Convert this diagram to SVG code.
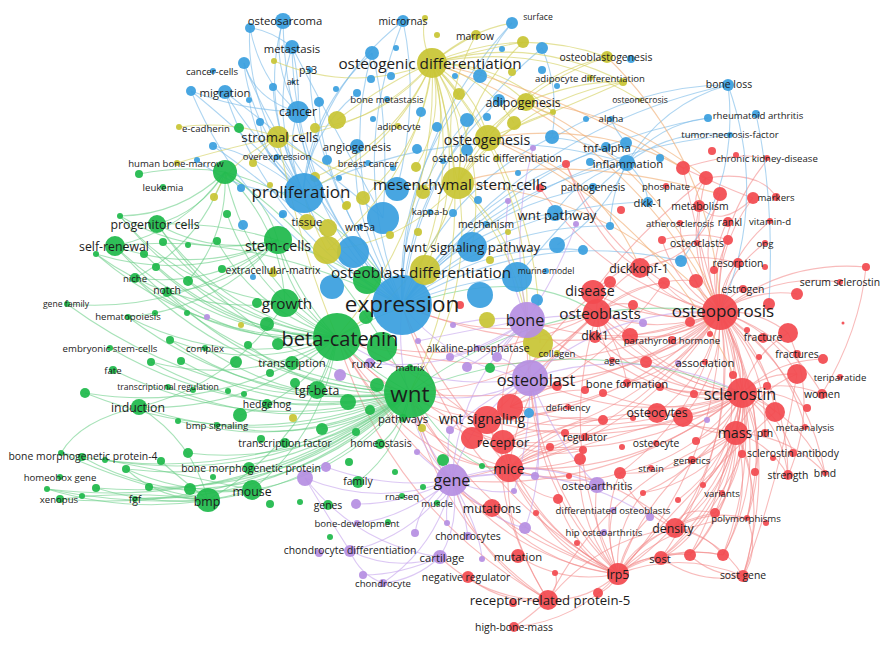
<svg xmlns="http://www.w3.org/2000/svg" width="892" height="646" viewBox="0 0 892 646">
<style>
.r{fill:#f24a50}.g{fill:#1fb94b}.b{fill:#3a9fdf}.y{fill:#c8c535}.p{fill:#b68fe2}
circle{fill-opacity:.93}
text{font-family:"Open Sans","Noto Sans","DejaVu Sans",sans-serif;fill:#1c1c1c;text-anchor:middle;dominant-baseline:central}
.f8{font-size:8.6px}.f9{font-size:9.6px}.f10{font-size:10.4px}.f11{font-size:11.3px}.f12{font-size:12.3px}.f13{font-size:13.2px}.f14{font-size:14.2px}.f15{font-size:15.3px}.f16{font-size:16.2px}.f17{font-size:17px}.f20{font-size:20px}.f22{font-size:22.5px}
#edges path{fill:none;stroke-width:1.1}
.er{stroke:#f38a8a;stroke-opacity:.58}
.eg{stroke:#68cd85;stroke-opacity:.58}
.eb{stroke:#7cbbe9;stroke-opacity:.62}
.ey{stroke:#d3d15e;stroke-opacity:.62}
.ep{stroke:#c6a6ee;stroke-opacity:.62}
.eo{stroke:#f0ad72;stroke-opacity:.62}
</style>
<rect width="892" height="646" fill="#ffffff"/>
<g id="edges">
<g class="er">
<path d="M720 312Q747 348 742 393"/><path d="M720 312Q752 369 736 433"/><path d="M720 312Q741 429 675 528"/><path d="M720 312Q721 463 618 574"/><path d="M720 312Q758 309 788 333"/><path d="M720 312Q771 328 797 374"/><path d="M720 312Q784 260 866 267"/><path d="M720 312Q774 273 840 282"/><path d="M720 312Q727 296 744 289"/><path d="M720 312Q719 284 737 263"/><path d="M720 312Q710 274 728 240"/><path d="M720 312Q706 264 728 220"/><path d="M720 312Q688 263 699 205"/><path d="M720 312Q714 248 753 198"/><path d="M720 312Q713 226 768 159"/><path d="M720 312Q671 306 640 268"/><path d="M720 312Q652 327 593 292"/><path d="M720 312Q659 337 597 313"/><path d="M720 312Q625 355 527 320"/><path d="M720 312Q638 383 530 378"/><path d="M720 312Q625 413 487 420"/><path d="M720 312Q646 432 509 468"/><path d="M720 312Q581 414 410 392"/><path d="M720 312Q560 372 402 305"/><path d="M720 312Q533 401 337 337"/><path d="M720 312Q787 333 822 394"/><path d="M720 312Q787 380 788 476"/><path d="M720 312Q805 371 825 473"/><path d="M720 312Q784 439 743 576"/><path d="M720 312Q637 420 503 442"/><path d="M720 312Q620 450 452 480"/>
<path d="M720 312Q686 248 706 178"/><path d="M720 312Q696 253 720 194"/><path d="M720 312Q659 319 610 282"/><path d="M720 312Q686 309 664 283"/><path d="M720 312Q702 301 696 281"/><path d="M720 312Q755 288 797 294"/><path d="M720 312Q675 326 633 305"/><path d="M720 312Q680 342 630 336"/><path d="M720 312Q693 352 646 362"/><path d="M720 312Q739 341 733 375"/><path d="M720 312Q767 351 775 412"/><path d="M720 312Q722 372 683 417"/><path d="M720 312Q709 375 657 413"/><path d="M720 312Q688 366 627 383"/><path d="M720 312Q740 447 661 558"/><path d="M720 312Q754 440 690 555"/><path d="M720 312Q770 433 723 555"/><path d="M720 312Q758 414 715 513"/><path d="M720 312Q775 410 747 518"/><path d="M720 312Q702 412 620 473"/><path d="M720 312Q759 379 742 454"/><path d="M720 312Q767 364 765 433"/><path d="M720 312Q786 353 805 427"/><path d="M720 312Q676 358 612 360"/><path d="M720 312Q663 350 595 337"/><path d="M720 312Q677 288 662 240"/><path d="M720 312Q729 269 765 243"/><path d="M720 312Q727 257 770 221"/><path d="M720 312Q682 276 680 223"/><path d="M720 312Q613 269 566 164"/><path d="M720 312Q605 286 540 188"/>
<path d="M742 393Q747 414 736 433"/><path d="M742 393Q736 474 675 528"/><path d="M742 393Q735 492 661 558"/><path d="M742 393Q716 508 618 574"/><path d="M742 393Q704 420 657 413"/><path d="M742 393Q700 406 660 387"/><path d="M742 393Q657 394 595 337"/><path d="M742 393Q766 372 797 374"/><path d="M742 393Q782 378 822 394"/><path d="M742 393Q780 413 793 453"/><path d="M742 393Q641 477 509 468"/><path d="M742 393Q632 465 503 442"/><path d="M742 393Q620 458 487 420"/><path d="M742 393Q614 495 452 480"/><path d="M742 393Q633 428 530 378"/><path d="M742 393Q620 400 527 320"/><path d="M742 393Q576 459 410 392"/><path d="M742 393Q647 372 593 292"/><path d="M742 393Q654 382 597 313"/><path d="M742 393Q778 388 807 408"/>
<path d="M742 393Q762 396 775 412"/><path d="M742 393Q717 417 683 417"/><path d="M742 393Q673 421 603 393"/><path d="M742 393Q688 397 646 362"/><path d="M742 393Q675 387 630 336"/><path d="M742 393Q697 457 620 473"/><path d="M742 393Q748 484 690 555"/><path d="M742 393Q765 478 723 555"/><path d="M742 393Q753 458 715 513"/><path d="M742 393Q770 455 747 518"/><path d="M742 393Q764 430 755 472"/><path d="M742 393Q741 447 703 485"/><path d="M742 393Q713 463 643 493"/><path d="M742 393Q731 459 678 500"/><path d="M742 393Q670 403 612 360"/><path d="M742 393Q753 354 788 333"/><path d="M742 393Q776 360 823 359"/><path d="M742 393Q800 416 825 473"/><path d="M742 393Q782 425 788 476"/><path d="M742 393Q729 426 696 441"/>
<path d="M736 433Q725 493 675 528"/><path d="M736 433Q724 511 661 558"/><path d="M736 433Q737 503 690 555"/><path d="M736 433Q754 497 723 555"/><path d="M736 433Q759 473 747 518"/><path d="M736 433Q771 444 788 476"/><path d="M736 433Q789 435 825 473"/><path d="M736 433Q686 476 620 473"/><path d="M736 433Q702 482 643 493"/><path d="M736 433Q755 391 797 374"/><path d="M736 433Q706 436 683 417"/><path d="M736 433Q768 503 743 576"/><path d="M736 433Q720 470 703 485"/>
<path d="M675 528Q704 532 723 555"/><path d="M675 528Q719 538 743 576"/><path d="M675 528Q709 509 747 518"/><path d="M675 528Q637 512 620 473"/><path d="M675 528Q680 505 715 513"/><path d="M661 558Q692 548 723 555"/><path d="M661 558Q700 585 743 576"/><path d="M690 555Q710 575 743 576"/><path d="M747 518Q760 550 743 576"/>
<path d="M618 574Q588 601 548 600"/><path d="M618 574Q577 621 514 627"/><path d="M618 574Q564 585 518 556"/><path d="M618 574Q542 566 492 508"/><path d="M618 574Q637 540 675 528"/><path d="M618 574Q636 557 661 558"/><path d="M618 574Q681 550 743 576"/><path d="M618 574Q649 480 736 433"/><path d="M618 574Q542 543 509 468"/><path d="M618 574Q534 531 503 442"/><path d="M618 574Q522 523 487 420"/><path d="M618 574Q516 560 452 480"/><path d="M618 574Q478 525 410 392"/><path d="M618 574Q522 465 527 320"/><path d="M618 574Q535 494 530 378"/><path d="M618 574Q671 520 747 518"/><path d="M618 574Q654 524 715 513"/><path d="M618 574Q430 512 337 337"/><path d="M618 574Q456 483 402 305"/><path d="M618 574Q555 448 597 313"/><path d="M618 574Q590 534 597 485"/><path d="M618 574Q650 550 690 555"/><path d="M618 574Q667 544 723 555"/>
<path d="M618 574Q573 549 558 499"/><path d="M618 574Q576 524 580 459"/><path d="M618 574Q599 523 620 473"/><path d="M618 574Q614 529 643 493"/><path d="M618 574Q605 540 613 510"/><path d="M618 574Q625 540 650 517"/><path d="M618 574Q565 560 536 513"/><path d="M618 574Q600 570 577 543"/><path d="M618 574Q610 590 598 593"/>
<path d="M548 600Q502 526 509 468"/><path d="M548 600Q494 512 503 442"/><path d="M548 600Q437 524 410 392"/><path d="M548 600Q476 559 452 480"/><path d="M548 600Q503 605 468 577"/><path d="M548 600Q485 600 440 557"/><path d="M548 600Q390 511 337 337"/><path d="M548 600Q528 618 514 627"/><path d="M548 600Q597 539 675 528"/><path d="M548 600Q609 479 736 433"/><path d="M548 600Q560 585 555 573"/>
<path d="M509 468Q522 373 597 313"/><path d="M509 468Q604 465 675 528"/><path d="M509 468Q616 405 736 433"/><path d="M509 468Q572 411 657 413"/><path d="M509 468Q488 390 527 320"/><path d="M509 468Q397 437 337 337"/><path d="M509 468Q423 365 402 305"/><path d="M509 468Q530 450 550 447"/><path d="M509 468Q545 445 583 450"/><path d="M509 468Q545 470 580 459"/><path d="M509 468Q540 480 569 476"/><path d="M509 468Q530 495 558 499"/><path d="M509 468Q570 490 620 473"/><path d="M509 468Q550 420 603 420"/><path d="M503 442Q535 425 565 433"/><path d="M503 442Q545 445 585 437"/><path d="M503 442Q550 410 603 420"/><path d="M503 442Q550 460 583 450"/>
<path d="M510 407Q535 385 557 386"/><path d="M510 407Q550 390 585 390"/><path d="M510 407Q560 410 603 393"/><path d="M510 407Q570 425 633 418"/><path d="M487 420Q530 420 568 407"/><path d="M410 392Q460 430 503 442"/><path d="M410 392Q440 470 509 468"/><path d="M410 392Q440 500 492 508"/><path d="M337 337Q420 430 503 442"/><path d="M337 337Q410 470 509 468"/>
<path d="M597 313Q519 390 410 392"/><path d="M597 313Q472 377 337 337"/><path d="M597 313Q498 348 402 305"/><path d="M597 313Q600 326 595 337"/><path d="M597 313Q612 282 640 268"/><path d="M597 313Q620 345 627 383"/><path d="M597 313Q595 290 610 282"/><path d="M597 313Q615 330 630 336"/><path d="M597 313Q615 350 646 362"/><path d="M597 313Q600 340 612 360"/><path d="M597 313Q615 300 633 305"/><path d="M597 313Q630 285 664 283"/><path d="M597 313Q650 275 696 281"/>
<path d="M866 267Q860 330 822 394"/><path d="M593 292Q640 250 697 243"/><path d="M683 168Q700 250 720 312"/><path d="M706 178Q640 230 593 292"/><path d="M720 194Q700 260 640 268"/><path d="M753 198Q720 230 699 206"/><path d="M683 168Q740 150 768 159"/><path d="M706 178Q760 170 776 197"/><path d="M487 420Q395 409 337 337"/><path d="M487 420Q560 350 597 313"/><path d="M503 442Q399 356 337 337"/><path d="M610 282Q540 330 510 407"/><path d="M664 283Q600 370 510 407"/><path d="M683 417Q600 440 509 468"/><path d="M775 412Q700 480 618 574"/><path d="M797 374Q780 480 743 576"/><path d="M742 454Q700 540 661 558"/><path d="M788 333Q820 400 788 476"/><path d="M683 168Q730 190 753 198"/><path d="M706 178Q690 200 699 206"/><path d="M662 240Q700 230 728 240"/><path d="M640 268Q690 250 737 263"/><path d="M640 268Q600 250 566 164"/>
</g>
<g class="eg">
<path d="M337 337Q288 300 278 240"/><path d="M337 337Q305 325 285 303"/><path d="M337 337Q208 336 115 246"/><path d="M337 337Q224 317 157 224"/><path d="M337 337Q224 348 135 278"/><path d="M337 337Q243 349 167 292"/><path d="M337 337Q229 369 128 317"/><path d="M337 337Q249 387 151 362"/><path d="M337 337Q252 412 139 407"/><path d="M337 337Q222 415 85 393"/><path d="M337 337Q304 395 240 415"/><path d="M337 337Q305 444 208 500"/><path d="M337 337Q325 431 252 490"/><path d="M337 337Q330 370 317 390"/><path d="M337 337Q248 277 225 172"/><path d="M337 337Q254 372 170 340"/><path d="M337 337Q257 298 227 214"/><path d="M337 337Q251 339 188 281"/>
<path d="M337 337Q204 320 120 216"/><path d="M337 337Q224 334 144 254"/><path d="M337 337Q200 344 96 254"/><path d="M337 337Q232 338 156 267"/><path d="M337 337Q231 324 163 242"/><path d="M337 337Q258 313 217 241"/>
<path d="M410 392Q331 486 208 500"/><path d="M410 392Q351 473 252 490"/><path d="M410 392Q256 516 60 499"/><path d="M410 392Q294 501 135 499"/><path d="M410 392Q248 492 61 453"/><path d="M410 392Q311 467 188 453"/><path d="M410 392Q278 454 139 407"/><path d="M410 392Q402 447 358 482"/><path d="M410 392Q400 430 380 444"/><path d="M410 392Q370 420 322 429"/><path d="M410 392Q233 378 115 246"/><path d="M410 392Q250 359 157 224"/><path d="M410 392Q221 417 67 304"/><path d="M410 392Q314 342 278 240"/><path d="M410 392Q320 401 248 345"/><path d="M410 392Q248 458 85 393"/><path d="M410 392Q283 487 126 469"/>
<path d="M410 392Q300 453 178 421"/><path d="M410 392Q271 487 105 460"/><path d="M410 392Q248 513 47 489"/><path d="M410 392Q272 503 96 488"/><path d="M410 392Q298 492 149 487"/><path d="M410 392Q319 485 190 489"/><path d="M410 392Q289 422 181 361"/><path d="M410 392Q280 414 170 340"/><path d="M410 392Q274 429 151 362"/><path d="M410 392Q257 440 113 370"/><path d="M410 392Q288 438 168 387"/><path d="M410 392Q320 447 217 425"/><path d="M410 392Q250 390 135 278"/><path d="M410 392Q254 411 128 317"/><path d="M410 392Q268 391 167 292"/><path d="M410 392Q251 430 110 348"/><path d="M410 392Q299 411 205 348"/>
<path d="M225 172Q201 212 157 224"/><path d="M225 172Q185 231 115 246"/><path d="M225 172Q185 165 139 174"/><path d="M225 172Q265 195 278 240"/><path d="M225 172Q281 226 285 303"/><path d="M225 172Q340 203 402 305"/><path d="M225 172Q228 234 188 281"/><path d="M225 172Q201 243 135 278"/><path d="M225 172Q340 250 410 392"/><path d="M225 172Q181 215 120 216"/>
<path d="M278 240Q198 276 115 246"/><path d="M278 240Q214 256 157 224"/><path d="M278 240Q214 288 135 278"/><path d="M278 240Q233 288 167 292"/><path d="M278 240Q218 309 128 317"/><path d="M278 240Q185 314 67 304"/><path d="M278 240Q194 260 120 216"/><path d="M278 240Q190 283 96 254"/>
<path d="M285 303Q233 384 139 407"/><path d="M285 303Q181 316 96 254"/><path d="M285 303Q185 293 120 216"/><path d="M139 407Q192 440 208 500"/><path d="M208 500Q134 490 60 499"/><path d="M208 500Q171 495 135 499"/><path d="M208 500Q130 485 61 453"/><path d="M252 490Q160 470 105 460"/><path d="M208 500Q170 470 161 461"/><path d="M208 500Q126 505 47 489"/><path d="M208 500Q150 505 96 488"/><path d="M208 500Q160 500 126 469"/><path d="M252 490Q185 495 126 469"/><path d="M252 490Q150 520 47 489"/><path d="M252 490Q160 500 82 457"/><path d="M61 453Q80 420 139 407"/>
<path d="M410 392Q549 290 720 312"/><path d="M410 392Q576 326 742 393"/><path d="M337 337Q500 250 597 313"/><path d="M410 392Q470 480 509 468"/><path d="M115 246Q250 230 402 305"/><path d="M157 224Q290 220 402 305"/>
</g>
<g class="eb">
<path d="M402 305Q330 268 303 192"/><path d="M402 305Q311 229 298 112"/><path d="M402 305Q271 234 225 92"/><path d="M402 305Q295 198 292 47"/><path d="M402 305Q286 187 283 21"/><path d="M402 305Q346 163 403 21"/><path d="M402 305Q401 142 512 23"/><path d="M402 305Q486 189 627 163"/><path d="M402 305Q482 179 626 143"/><path d="M402 305Q521 130 728 85"/><path d="M402 305Q518 150 708 118"/><path d="M402 305Q504 204 648 202"/><path d="M402 305Q460 228 555 213"/><path d="M402 305Q462 280 517 277"/><path d="M402 305Q348 217 357 146"/><path d="M402 305Q309 169 310 70"/><path d="M402 305Q275 152 244 63"/><path d="M402 305Q276 188 213 146"/><path d="M402 305Q474 208 593 187"/><path d="M402 305Q533 227 681 261"/><path d="M402 305Q532 154 730 135"/>
<path d="M402 305Q337 173 372 53"/><path d="M402 305Q395 175 480 76"/><path d="M402 305Q421 149 542 48"/><path d="M402 305Q398 200 467 120"/><path d="M402 305Q443 191 552 137"/><path d="M402 305Q410 183 499 100"/><path d="M402 305Q320 187 319 102"/><path d="M402 305Q254 240 191 91"/><path d="M402 305Q490 224 610 226"/><path d="M402 305Q482 241 583 250"/>
<path d="M303 192Q284 151 298 112"/><path d="M303 192Q244 126 225 92"/><path d="M303 192Q269 117 292 47"/><path d="M303 192Q259 103 283 21"/><path d="M303 192Q248 116 244 63"/><path d="M303 192Q227 119 191 91"/><path d="M303 192Q275 130 273 87"/><path d="M303 192Q319 87 403 21"/><path d="M303 192Q244 99 250 28"/><path d="M303 192Q249 151 213 146"/><path d="M303 192Q459 113 627 163"/>
<path d="M303 192Q310 109 372 53"/><path d="M303 192Q310 132 357 93"/><path d="M303 192Q265 165 260 122"/><path d="M303 192Q244 197 197 160"/><path d="M303 192Q258 157 249 100"/>
<path d="M298 112Q260 80 250 28"/><path d="M298 112Q255 100 244 63"/><path d="M298 112Q240 110 191 91"/><path d="M292 47Q270 30 250 28"/><path d="M383 218Q330 120 292 47"/><path d="M383 218Q390 120 372 53"/><path d="M383 218Q300 150 225 92"/><path d="M397 189Q420 100 403 21"/><path d="M512 23Q490 50 480 76"/><path d="M542 48Q560 90 552 137"/>
<path d="M627 163Q662 104 728 85"/><path d="M627 163Q659 124 708 118"/><path d="M627 163Q673 128 730 135"/><path d="M627 163Q646 180 648 202"/><path d="M627 163Q590 140 553 138"/><path d="M627 163Q612 190 610 226"/><path d="M626 143Q615 130 611 119"/><path d="M555 213Q580 175 627 163"/><path d="M557 245Q605 215 627 163"/><path d="M517 277Q580 200 627 163"/>
<path d="M728 85Q640 85 553 138"/><path d="M728 85Q740 182 681 261"/><path d="M728 85Q769 200 720 312"/><path d="M298 112Q270 60 283 21"/><path d="M298 112Q300 80 292 47"/><path d="M756 114Q775 200 769 304"/>
</g>
<g class="ey">
<path d="M432 63Q455 45 476 35"/><path d="M432 63Q470 30 512 23"/><path d="M432 63Q518 25 607 57"/><path d="M432 63Q531 34 623 82"/><path d="M432 63Q487 64 526 102"/><path d="M432 63Q475 89 488 138"/><path d="M432 63Q469 118 458 183"/><path d="M432 63Q370 131 278 137"/><path d="M432 63Q465 190 402 305"/><path d="M432 63Q439 219 337 337"/><path d="M432 63Q487 232 410 392"/><path d="M432 63Q393 153 303 192"/><path d="M432 63Q470 168 425 270"/><path d="M432 63Q531 173 527 320"/><path d="M432 63Q541 180 540 343"/><path d="M432 63Q489 147 472 247"/><path d="M432 63Q390 80 337 120"/><path d="M432 63Q450 80 459 94"/><path d="M432 63Q543 40 640 100"/>
<path d="M432 63Q485 77 514 123"/><path d="M432 63Q502 63 553 112"/><path d="M432 63Q445 118 416 167"/><path d="M432 63Q453 129 423 192"/><path d="M432 63Q425 144 363 198"/><path d="M432 63Q387 119 315 128"/><path d="M432 63Q396 143 315 177"/><path d="M432 63Q353 94 274 61"/><path d="M432 63Q417 178 327 250"/><path d="M432 63Q420 40 425 18"/><path d="M432 63Q480 50 523 42"/>
<path d="M458 183Q476 129 526 102"/><path d="M458 183Q359 196 278 137"/><path d="M458 183Q437 105 476 35"/><path d="M458 183Q507 90 607 57"/><path d="M458 183Q476 297 410 392"/><path d="M458 183Q520 238 527 320"/><path d="M458 183Q533 266 530 378"/><path d="M458 183Q428 284 337 337"/><path d="M458 183Q520 100 623 82"/><path d="M488 138Q531 74 607 57"/><path d="M278 137Q300 250 337 337"/>
<path d="M458 183Q406 243 327 250"/><path d="M458 183Q491 129 553 112"/><path d="M458 183Q462 100 523 42"/><path d="M488 138Q560 110 623 82"/><path d="M526 102Q580 80 623 82"/><path d="M526 102Q545 115 553 112"/><path d="M278 137Q260 150 253 163"/><path d="M278 137Q230 160 214 197"/><path d="M278 137Q230 120 179 127"/><path d="M278 137Q220 150 177 163"/><path d="M327 250Q310 220 303 192"/>
</g>
<g class="eo">
<path d="M458 183Q615 195 720 312"/><path d="M432 63Q626 130 720 312"/><path d="M488 138Q666 215 742 393"/><path d="M526 102Q665 168 720 312"/><path d="M607 57Q715 162 720 312"/><path d="M488 138Q600 120 683 168"/><path d="M526 102Q620 110 706 178"/><path d="M458 183Q560 150 720 194"/><path d="M432 63Q560 90 683 168"/><path d="M488 138Q600 170 640 268"/>
</g>
<g class="ep">
<path d="M452 480Q461 521 440 557"/><path d="M452 480Q465 510 468 536"/><path d="M452 480Q415 536 350 551"/><path d="M452 480Q438 545 383 583"/><path d="M452 480Q378 508 305 478"/><path d="M452 480Q390 490 326 467"/><path d="M452 480Q450 495 437 503"/><path d="M452 480Q526 454 597 485"/><path d="M452 480Q558 459 650 517"/><path d="M452 480Q413 444 410 392"/><path d="M452 480Q392 403 402 305"/><path d="M452 480Q471 413 530 378"/><path d="M452 480Q458 385 527 320"/>
<path d="M452 480Q495 470 535 476"/><path d="M452 480Q485 495 514 491"/><path d="M452 480Q490 520 525 528"/><path d="M452 480Q445 505 447 523"/><path d="M452 480Q420 500 415 533"/><path d="M452 480Q480 530 482 559"/><path d="M452 480Q430 465 417 452"/><path d="M452 480Q445 455 450 430"/><path d="M452 480Q400 505 356 504"/>
<path d="M440 557Q415 580 383 583"/><path d="M440 557Q394 572 350 551"/><path d="M440 557Q400 575 363 575"/><path d="M440 557Q357 545 305 478"/><path d="M527 320Q457 373 370 363"/>
<path d="M527 320Q490 315 453 325"/><path d="M527 320Q470 330 418 341"/><path d="M527 320Q490 345 450 357"/><path d="M527 320Q490 355 467 367"/><path d="M527 320Q510 340 497 357"/><path d="M527 320Q590 310 643 323"/><path d="M527 320Q500 260 508 201"/><path d="M527 320Q510 230 533 148"/><path d="M527 320Q560 270 576 224"/>
<path d="M530 378Q451 367 402 305"/><path d="M530 378Q473 409 410 392"/><path d="M530 378Q425 396 337 337"/><path d="M530 378Q639 343 742 393"/><path d="M530 378Q612 307 720 312"/><path d="M530 378Q560 450 597 485"/><path d="M530 378Q510 360 497 357"/><path d="M530 378Q490 395 450 430"/><path d="M530 378Q545 430 535 476"/><path d="M530 378Q530 440 514 491"/><path d="M530 378Q550 460 525 528"/>
<path d="M305 478Q330 520 350 551"/><path d="M350 551Q360 575 383 583"/><path d="M452 480Q400 520 357 523"/>
</g>
</g>
<g id="nodes">
<g id="minor-blue">
<g id="u-b1"><circle class="b" cx="250" cy="28" r="5"/></g><g id="u-b2"><circle class="b" cx="244" cy="63" r="6"/></g><g id="u-b3"><circle class="b" cx="191" cy="91" r="5"/></g><g id="u-b4"><circle class="b" cx="249" cy="100" r="3"/></g><g id="u-b5"><circle class="b" cx="260" cy="122" r="4"/></g><g id="u-b6"><circle class="b" cx="213" cy="146" r="4"/></g><g id="u-b7"><circle class="b" cx="197" cy="160" r="3"/></g><g id="u-b8"><circle class="b" cx="241" cy="188" r="4"/></g><g id="u-b9"><circle class="b" cx="243" cy="225" r="5"/></g><g id="u-b10"><circle class="b" cx="283" cy="214" r="4"/></g><g id="u-b11"><circle class="b" cx="253" cy="277" r="3"/></g><g id="u-b12"><circle class="b" cx="319" cy="102" r="5"/></g><g id="u-b13"><circle class="b" cx="357" cy="93" r="4"/></g><g id="u-b14"><circle class="b" cx="336" cy="89" r="3"/></g><g id="u-b15"><circle class="b" cx="372" cy="53" r="7"/></g><g id="u-b16"><circle class="b" cx="396" cy="48" r="3"/></g><g id="u-b17"><circle class="b" cx="371" cy="79" r="4"/></g><g id="u-b18"><circle class="b" cx="391" cy="76" r="4"/></g><g id="u-b19"><circle class="b" cx="455" cy="76" r="3"/></g><g id="u-b20"><circle class="b" cx="480" cy="76" r="7"/></g><g id="u-b21"><circle class="b" cx="502" cy="49" r="3"/></g><g id="u-b22"><circle class="b" cx="542" cy="48" r="6"/></g><g id="u-b23"><circle class="b" cx="542" cy="70" r="4"/></g><g id="u-b24"><circle class="b" cx="557" cy="86" r="3"/></g><g id="u-b25"><circle class="b" cx="586" cy="119" r="3"/></g><g id="u-b26"><circle class="b" cx="499" cy="100" r="6"/></g><g id="u-b27"><circle class="b" cx="421" cy="112" r="5"/></g><g id="u-b28"><circle class="b" cx="487" cy="117" r="4"/></g><g id="u-b29"><circle class="b" cx="467" cy="120" r="7"/></g><g id="u-b30"><circle class="b" cx="373" cy="119" r="3"/></g><g id="u-b31"><circle class="b" cx="437" cy="127" r="5"/></g><g id="u-b32"><circle class="b" cx="552" cy="137" r="7"/></g><g id="u-b33"><circle class="b" cx="417" cy="149" r="5"/></g><g id="u-b34"><circle class="b" cx="467" cy="150" r="6"/></g><g id="u-b35"><circle class="b" cx="443" cy="161" r="3"/></g><g id="u-b36"><circle class="b" cx="518" cy="173" r="3"/></g><g id="u-b37"><circle class="b" cx="393" cy="168" r="3"/></g><g id="u-b38"><circle class="b" cx="327" cy="160" r="5"/></g><g id="u-b39"><circle class="b" cx="339" cy="178" r="3"/></g><g id="u-b40"><circle class="b" cx="397" cy="189" r="12"/></g><g id="u-b41"><circle class="b" cx="383" cy="218" r="16"/></g><g id="u-b42"><circle class="b" cx="353" cy="252" r="16"/></g><g id="u-b43"><circle class="b" cx="332" cy="287" r="12"/></g><g id="u-b44"><circle class="b" cx="453" cy="213" r="4"/></g><g id="u-b45"><circle class="b" cx="478" cy="200" r="4"/></g><g id="u-b46"><circle class="b" cx="517" cy="277" r="15"/></g><g id="u-b47"><circle class="b" cx="480" cy="295" r="13"/></g><g id="u-b48"><circle class="b" cx="537" cy="300" r="6"/></g><g id="u-b49"><circle class="b" cx="557" cy="245" r="8"/></g><g id="u-b50"><circle class="b" cx="583" cy="250" r="5"/></g><g id="u-b51"><circle class="b" cx="610" cy="226" r="4"/></g><g id="u-b52"><circle class="b" cx="590" cy="162" r="4"/></g><g id="u-b53"><circle class="b" cx="660" cy="158" r="4"/></g><g id="u-b54"><circle class="b" cx="626" cy="143" r="6"/></g><g id="u-b55"><circle class="b" cx="708" cy="118" r="4"/></g><g id="u-b56"><circle class="b" cx="681" cy="261" r="6"/></g><g id="u-b57"><circle class="b" cx="529" cy="413" r="5"/></g><g id="u-b58"><circle class="b" cx="631" cy="59" r="4"/></g><g id="u-b59"><circle class="b" cx="282" cy="215" r="3"/></g><g id="u-b60"><circle class="b" cx="273" cy="87" r="4"/></g>
</g>
<g id="minor-yellow">
<g id="u-y1"><circle class="y" cx="274" cy="61" r="3"/></g><g id="u-y2"><circle class="y" cx="425" cy="18" r="3"/></g><g id="u-y3"><circle class="y" cx="437" cy="35" r="3"/></g><g id="u-y4"><circle class="y" cx="523" cy="42" r="6"/></g><g id="u-y5"><circle class="y" cx="512" cy="72" r="4"/></g><g id="u-y6"><circle class="y" cx="459" cy="94" r="6"/></g><g id="u-y7"><circle class="y" cx="553" cy="112" r="3"/></g><g id="u-y8"><circle class="y" cx="514" cy="123" r="7"/></g><g id="u-y9"><circle class="y" cx="337" cy="120" r="9"/></g><g id="u-y10"><circle class="y" cx="315" cy="128" r="5"/></g><g id="u-y11"><circle class="y" cx="416" cy="167" r="5"/></g><g id="u-y12"><circle class="y" cx="423" cy="192" r="7"/></g><g id="u-y13"><circle class="y" cx="363" cy="198" r="7"/></g><g id="u-y14"><circle class="y" cx="346" cy="206" r="4"/></g><g id="u-y15"><circle class="y" cx="315" cy="177" r="5"/></g><g id="u-y16"><circle class="y" cx="253" cy="163" r="4"/></g><g id="u-y17"><circle class="y" cx="270" cy="185" r="3"/></g><g id="u-y18"><circle class="y" cx="214" cy="197" r="4"/></g><g id="u-y19"><circle class="y" cx="328" cy="228" r="9"/></g><g id="u-y20"><circle class="y" cx="327" cy="250" r="14"/></g><g id="u-y21"><circle class="y" cx="418" cy="232" r="4"/></g><g id="u-y22"><circle class="y" cx="390" cy="235" r="4"/></g><g id="u-y23"><circle class="y" cx="508" cy="232" r="3"/></g><g id="u-y24"><circle class="y" cx="490" cy="260" r="4"/></g><g id="u-y25"><circle class="y" cx="487" cy="320" r="8"/></g><g id="u-y26"><circle class="y" cx="538" cy="343" r="15"/></g><g id="u-y27"><circle class="y" cx="623" cy="82" r="4"/></g><g id="u-y28"><circle class="y" cx="241" cy="325" r="3"/></g><g id="u-y29"><circle class="y" cx="293" cy="418" r="4"/></g><g id="u-y30"><circle class="y" cx="422" cy="428" r="4"/></g><g id="u-y31"><circle class="y" cx="273" cy="273" r="4"/></g><g id="u-y32"><circle class="y" cx="347" cy="205" r="4"/></g>
</g>
<g id="minor-green">
<g id="u-g1"><circle class="g" cx="239" cy="128" r="5"/></g><g id="u-g2"><circle class="g" cx="225" cy="172" r="12"/></g><g id="u-g3"><circle class="g" cx="139" cy="174" r="4"/></g><g id="u-g4"><circle class="g" cx="120" cy="216" r="3"/></g><g id="u-g5"><circle class="g" cx="227" cy="214" r="4"/></g><g id="u-g6"><circle class="g" cx="163" cy="242" r="4"/></g><g id="u-g7"><circle class="g" cx="188" cy="245" r="3"/></g><g id="u-g8"><circle class="g" cx="217" cy="241" r="4"/></g><g id="u-g9"><circle class="g" cx="144" cy="254" r="4"/></g><g id="u-g10"><circle class="g" cx="96" cy="254" r="3"/></g><g id="u-g11"><circle class="g" cx="156" cy="267" r="4"/></g><g id="u-g12"><circle class="g" cx="188" cy="281" r="5"/></g><g id="u-g13"><circle class="g" cx="222" cy="269" r="4"/></g><g id="u-g14"><circle class="g" cx="257" cy="303" r="5"/></g><g id="u-g15"><circle class="g" cx="267" cy="324" r="7"/></g><g id="u-g16"><circle class="g" cx="187" cy="313" r="3"/></g><g id="u-g17"><circle class="g" cx="155" cy="313" r="3"/></g><g id="u-g18"><circle class="g" cx="170" cy="340" r="4"/></g><g id="u-g19"><circle class="g" cx="248" cy="345" r="4"/></g><g id="u-g20"><circle class="g" cx="278" cy="344" r="6"/></g><g id="u-g21"><circle class="g" cx="236" cy="362" r="6"/></g><g id="u-g22"><circle class="g" cx="181" cy="361" r="4"/></g><g id="u-g23"><circle class="g" cx="151" cy="362" r="4"/></g><g id="u-g24"><circle class="g" cx="85" cy="393" r="5"/></g><g id="u-g25"><circle class="g" cx="193" cy="390" r="3"/></g><g id="u-g26"><circle class="g" cx="228" cy="391" r="3"/></g><g id="u-g27"><circle class="g" cx="244" cy="394" r="3"/></g><g id="u-g28"><circle class="g" cx="240" cy="415" r="7"/></g><g id="u-g29"><circle class="g" cx="178" cy="421" r="3"/></g><g id="u-g30"><circle class="g" cx="270" cy="373" r="4"/></g><g id="u-g31"><circle class="g" cx="295" cy="383" r="5"/></g><g id="u-g32"><circle class="g" cx="188" cy="453" r="5"/></g><g id="u-g33"><circle class="g" cx="126" cy="469" r="4"/></g><g id="u-g34"><circle class="g" cx="161" cy="461" r="4"/></g><g id="u-g35"><circle class="g" cx="105" cy="460" r="3"/></g><g id="u-g36"><circle class="g" cx="61" cy="453" r="3"/></g><g id="u-g37"><circle class="g" cx="96" cy="488" r="4"/></g><g id="u-g38"><circle class="g" cx="149" cy="487" r="4"/></g><g id="u-g39"><circle class="g" cx="190" cy="489" r="6"/></g><g id="u-g40"><circle class="g" cx="47" cy="489" r="3"/></g><g id="u-g41"><circle class="g" cx="82" cy="496" r="3"/></g><g id="u-g42"><circle class="g" cx="213" cy="477" r="3"/></g><g id="u-g43"><circle class="g" cx="270" cy="504" r="4"/></g><g id="u-g44"><circle class="g" cx="261" cy="439" r="4"/></g><g id="u-g45"><circle class="g" cx="367" cy="280" r="14"/></g><g id="u-g46"><circle class="g" cx="382" cy="347" r="15"/></g><g id="u-g47"><circle class="g" cx="377" cy="385" r="7"/></g><g id="u-g48"><circle class="g" cx="348" cy="402" r="8"/></g><g id="u-g49"><circle class="g" cx="370" cy="410" r="5"/></g><g id="u-g50"><circle class="g" cx="490" cy="368" r="5"/></g><g id="u-g51"><circle class="g" cx="322" cy="429" r="6"/></g><g id="u-g52"><circle class="g" cx="356" cy="432" r="4"/></g><g id="u-g53"><circle class="g" cx="443" cy="460" r="6"/></g><g id="u-g54"><circle class="g" cx="349" cy="462" r="4"/></g><g id="u-g55"><circle class="g" cx="395" cy="472" r="3"/></g><g id="u-g56"><circle class="g" cx="482" cy="466" r="3"/></g><g id="u-g57"><circle class="g" cx="423" cy="487" r="3"/></g><g id="u-g58"><circle class="g" cx="300" cy="502" r="3"/></g><g id="u-g59"><circle class="g" cx="388" cy="522" r="3"/></g><g id="u-g60"><circle class="g" cx="330" cy="537" r="3"/></g><g id="u-g61"><circle class="g" cx="366" cy="317" r="7"/></g>
</g>
<g id="minor-purple">
<g id="u-p1"><circle class="p" cx="207" cy="317" r="3"/></g><g id="u-p2"><circle class="p" cx="533" cy="148" r="3"/></g><g id="u-p3"><circle class="p" cx="508" cy="201" r="3"/></g><g id="u-p4"><circle class="p" cx="576" cy="224" r="3"/></g><g id="u-p5"><circle class="p" cx="453" cy="325" r="3"/></g><g id="u-p6"><circle class="p" cx="418" cy="341" r="3"/></g><g id="u-p7"><circle class="p" cx="450" cy="357" r="4"/></g><g id="u-p8"><circle class="p" cx="467" cy="367" r="5"/></g><g id="u-p9"><circle class="p" cx="497" cy="357" r="5"/></g><g id="u-p10"><circle class="p" cx="340" cy="375" r="6"/></g><g id="u-p11"><circle class="p" cx="450" cy="430" r="4"/></g><g id="u-p12"><circle class="p" cx="417" cy="452" r="3"/></g><g id="u-p13"><circle class="p" cx="326" cy="467" r="5"/></g><g id="u-p14"><circle class="p" cx="305" cy="478" r="8"/></g><g id="u-p15"><circle class="p" cx="356" cy="504" r="5"/></g><g id="u-p16"><circle class="p" cx="535" cy="476" r="4"/></g><g id="u-p17"><circle class="p" cx="514" cy="491" r="3"/></g><g id="u-p18"><circle class="p" cx="525" cy="528" r="6"/></g><g id="u-p19"><circle class="p" cx="447" cy="523" r="3"/></g><g id="u-p20"><circle class="p" cx="415" cy="533" r="4"/></g><g id="u-p21"><circle class="p" cx="482" cy="559" r="3"/></g><g id="u-p22"><circle class="p" cx="363" cy="575" r="4"/></g><g id="u-p23"><circle class="p" cx="319" cy="553" r="4"/></g><g id="u-p24"><circle class="p" cx="643" cy="323" r="4"/></g><g id="u-p25"><circle class="p" cx="678" cy="363" r="3"/></g><g id="u-p26"><circle class="p" cx="707" cy="420" r="3"/></g><g id="u-p27"><circle class="p" cx="650" cy="517" r="4"/></g><g id="u-p28"><circle class="p" cx="603" cy="533" r="3"/></g>
</g>
<g id="minor-red">
<g id="u-r1"><circle class="r" cx="566" cy="164" r="4"/></g><g id="u-r2"><circle class="r" cx="540" cy="188" r="4"/></g><g id="u-r3"><circle class="r" cx="621" cy="210" r="4"/></g><g id="u-r4"><circle class="r" cx="712" cy="151" r="4"/></g><g id="u-r5"><circle class="r" cx="736" cy="155" r="3"/></g><g id="u-r6"><circle class="r" cx="683" cy="168" r="7"/></g><g id="u-r7"><circle class="r" cx="706" cy="178" r="7"/></g><g id="u-r8"><circle class="r" cx="720" cy="194" r="7"/></g><g id="u-r9"><circle class="r" cx="753" cy="198" r="6"/></g><g id="u-r10"><circle class="r" cx="728" cy="240" r="5"/></g><g id="u-r11"><circle class="r" cx="662" cy="240" r="4"/></g><g id="u-r12"><circle class="r" cx="714" cy="270" r="4"/></g><g id="u-r13"><circle class="r" cx="765" cy="267" r="3"/></g><g id="u-r14"><circle class="r" cx="866" cy="267" r="4"/></g><g id="u-r15"><circle class="r" cx="610" cy="282" r="6"/></g><g id="u-r16"><circle class="r" cx="664" cy="283" r="6"/></g><g id="u-r17"><circle class="r" cx="696" cy="281" r="7"/></g><g id="u-r18"><circle class="r" cx="797" cy="294" r="6"/></g><g id="u-r19"><circle class="r" cx="769" cy="304" r="6"/></g><g id="u-r20"><circle class="r" cx="633" cy="305" r="5"/></g><g id="u-r21"><circle class="r" cx="690" cy="322" r="5"/></g><g id="u-r22"><circle class="r" cx="710" cy="334" r="3"/></g><g id="u-r23"><circle class="r" cx="747" cy="330" r="3"/></g><g id="u-r24"><circle class="r" cx="788" cy="333" r="10"/></g><g id="u-r25"><circle class="r" cx="630" cy="336" r="8"/></g><g id="u-r26"><circle class="r" cx="843" cy="323" r="1.5"/></g><g id="u-r27"><circle class="r" cx="759" cy="357" r="3"/></g><g id="u-r28"><circle class="r" cx="823" cy="359" r="5"/></g><g id="u-r29"><circle class="r" cx="646" cy="362" r="6"/></g><g id="u-r30"><circle class="r" cx="733" cy="375" r="4"/></g><g id="u-r31"><circle class="r" cx="797" cy="374" r="10"/></g><g id="u-r32"><circle class="r" cx="660" cy="387" r="4"/></g><g id="u-r33"><circle class="r" cx="767" cy="386" r="4"/></g><g id="u-r34"><circle class="r" cx="603" cy="393" r="4"/></g><g id="u-r35"><circle class="r" cx="694" cy="394" r="4"/></g><g id="u-r36"><circle class="r" cx="775" cy="412" r="10"/></g><g id="u-r37"><circle class="r" cx="807" cy="408" r="4"/></g><g id="u-r38"><circle class="r" cx="683" cy="417" r="10"/></g><g id="u-r39"><circle class="r" cx="603" cy="420" r="5"/></g><g id="u-r40"><circle class="r" cx="633" cy="418" r="3"/></g><g id="u-r41"><circle class="r" cx="460" cy="305" r="4"/></g><g id="u-r42"><circle class="r" cx="557" cy="386" r="5"/></g><g id="u-r43"><circle class="r" cx="585" cy="390" r="4"/></g><g id="u-r44"><circle class="r" cx="510" cy="407" r="13"/></g><g id="u-r45"><circle class="r" cx="472" cy="438" r="11"/></g><g id="u-r46"><circle class="r" cx="565" cy="433" r="4"/></g><g id="u-r47"><circle class="r" cx="550" cy="447" r="4"/></g><g id="u-r48"><circle class="r" cx="583" cy="450" r="4"/></g><g id="u-r49"><circle class="r" cx="580" cy="459" r="6"/></g><g id="u-r50"><circle class="r" cx="569" cy="476" r="3"/></g><g id="u-r51"><circle class="r" cx="558" cy="499" r="5"/></g><g id="u-r52"><circle class="r" cx="536" cy="513" r="3"/></g><g id="u-r53"><circle class="r" cx="577" cy="543" r="3"/></g><g id="u-r54"><circle class="r" cx="555" cy="573" r="3"/></g><g id="u-r55"><circle class="r" cx="513" cy="603" r="4"/></g><g id="u-r56"><circle class="r" cx="598" cy="593" r="5"/></g><g id="u-r57"><circle class="r" cx="690" cy="555" r="6"/></g><g id="u-r58"><circle class="r" cx="723" cy="555" r="6"/></g><g id="u-r59"><circle class="r" cx="715" cy="513" r="5"/></g><g id="u-r60"><circle class="r" cx="766" cy="523" r="3"/></g><g id="u-r61"><circle class="r" cx="678" cy="500" r="3"/></g><g id="u-r62"><circle class="r" cx="643" cy="493" r="3"/></g><g id="u-r63"><circle class="r" cx="703" cy="485" r="3"/></g><g id="u-r64"><circle class="r" cx="620" cy="473" r="6"/></g><g id="u-r65"><circle class="r" cx="755" cy="472" r="4"/></g><g id="u-r66"><circle class="r" cx="773" cy="458" r="3"/></g><g id="u-r67"><circle class="r" cx="742" cy="454" r="4"/></g><g id="u-r68"><circle class="r" cx="622" cy="447" r="3"/></g><g id="u-r69"><circle class="r" cx="696" cy="441" r="4"/></g>
</g>
<g id="n-expression"><circle class="b" cx="402" cy="305" r="30"/><text class="f22" x="402" y="303">expression</text></g>
<g id="n-wnt"><circle class="g" cx="410" cy="392" r="26"/><text class="f22" x="410" y="393">wnt</text></g>
<g id="n-beta-catenin"><circle class="g" cx="337" cy="337" r="24"/><text class="f20" x="340" y="338">beta-catenin</text></g>
<g id="n-proliferation"><circle class="b" cx="304" cy="193" r="20"/><text class="f17" x="301" y="191">proliferation</text></g>
<g id="n-osteoporosis"><circle class="r" cx="720" cy="312" r="18"/><text class="f17" x="723" y="310">osteoporosis</text></g>
<g id="n-bone"><circle class="p" cx="527" cy="320" r="18"/><text class="f16" x="525" y="320">bone</text></g>
<g id="n-osteoblast"><circle class="p" cx="530" cy="378" r="18"/><text class="f16" x="536" y="380">osteoblast</text></g>
<g id="n-gene"><circle class="p" cx="452" cy="480" r="16"/><text class="f16" x="452" y="480">gene</text></g>
<g id="n-mesenchymal-stem-cells"><circle class="y" cx="458" cy="183" r="16"/><text class="f15" x="460" y="184">mesenchymal stem-cells</text></g>
<g id="n-sclerostin"><circle class="r" cx="742" cy="393" r="15"/><text class="f16" x="740" y="394">sclerostin</text></g>
<g id="n-osteogenic-differentiation"><circle class="y" cx="432" cy="63" r="15"/><text class="f15" x="430" y="63">osteogenic differentiation</text></g>
<g id="n-osteoblast-differentiation"><circle class="y" cx="425" cy="270" r="15"/><text class="f15" x="421" y="272">osteoblast differentiation</text></g>
<g id="n-wnt-signaling-pathway"><circle class="b" cx="472" cy="247" r="15"/><text class="f13" x="472" y="247">wnt signaling pathway</text></g>
<g id="n-stem-cells"><circle class="g" cx="278" cy="240" r="14"/><text class="f14" x="278" y="245">stem-cells</text></g>
<g id="n-growth"><circle class="g" cx="285" cy="303" r="14"/><text class="f15" x="287" y="303">growth</text></g>
<g id="n-osteoblasts"><circle class="r" cx="597" cy="313" r="14"/><text class="f15" x="600" y="313">osteoblasts</text></g>
<g id="n-disease"><circle class="r" cx="593" cy="292" r="12"/><text class="f14" x="590" y="290">disease</text></g>
<g id="n-mice"><circle class="r" cx="509" cy="468" r="14"/><text class="f14" x="509" y="468">mice</text></g>
<g id="n-wnt-signaling"><circle class="r" cx="487" cy="420" r="14"/><text class="f14" x="482" y="418">wnt signaling</text></g>
<g id="n-osteogenesis"><circle class="y" cx="488" cy="138" r="13"/><text class="f14" x="487" y="139">osteogenesis</text></g>
<g id="n-receptor"><circle class="r" cx="503" cy="442" r="12"/><text class="f13" x="503" y="442">receptor</text></g>
<g id="n-mass"><circle class="r" cx="736" cy="433" r="12"/><text class="f14" x="735" y="432">mass</text></g>
<g id="n-bmp"><circle class="g" cx="208" cy="500" r="12"/><text class="f12" x="207" y="501">bmp</text></g>
<g id="n-cancer"><circle class="b" cx="298" cy="112" r="11"/><text class="f12" x="298" y="111">cancer</text></g>
<g id="n-stromal-cells"><circle class="y" cx="278" cy="137" r="11"/><text class="f13" x="280" y="137">stromal cells</text></g>
<g id="n-lrp5"><circle class="r" cx="618" cy="574" r="11"/><text class="f12" x="618" y="574">lrp5</text></g>
<g id="n-self-renewal"><circle class="g" cx="115" cy="246" r="10"/><text class="f12" x="114" y="246">self-renewal</text></g>
<g id="n-dickkopf-1"><circle class="r" cx="640" cy="268" r="10"/><text class="f12" x="639" y="268">dickkopf-1</text></g>
<g id="n-density"><circle class="r" cx="675" cy="528" r="10"/><text class="f12" x="673" y="528">density</text></g>
<g id="n-receptor-related-protein-5"><circle class="r" cx="548" cy="600" r="10"/><text class="f13" x="550" y="600">receptor-related protein-5</text></g>
<g id="n-osteocytes"><circle class="r" cx="657" cy="413" r="10"/><text class="f12" x="657" y="412">osteocytes</text></g>
<g id="n-mouse"><circle class="g" cx="252" cy="490" r="10"/><text class="f12" x="252" y="491">mouse</text></g>
<g id="n-adipogenesis"><circle class="y" cx="526" cy="102" r="9"/><text class="f12" x="523" y="102">adipogenesis</text></g>
<g id="n-progenitor-cells"><circle class="g" cx="157" cy="224" r="9"/><text class="f12" x="155" y="224">progenitor cells</text></g>
<g id="n-mutations"><circle class="r" cx="492" cy="508" r="9"/><text class="f12" x="492" y="508">mutations</text></g>
<g id="n-tgf-beta"><circle class="g" cx="317" cy="390" r="9"/><text class="f12" x="317" y="390">tgf-beta</text></g>
<g id="n-osteosarcoma"><circle class="b" cx="283" cy="21" r="8"/><text class="f11" x="285" y="20">osteosarcoma</text></g>
<g id="n-induction"><circle class="g" cx="139" cy="407" r="8"/><text class="f12" x="138" y="407">induction</text></g>
<g id="n-inflammation"><circle class="b" cx="627" cy="163" r="8"/><text class="f11" x="628" y="163">inflammation</text></g>
<g id="n-wnt-pathway"><circle class="b" cx="555" cy="213" r="8"/><text class="f13" x="557" y="215">wnt pathway</text></g>
<g id="n-osteoarthritis"><circle class="p" cx="597" cy="485" r="8"/><text class="f11" x="597" y="485">osteoarthritis</text></g>
<g id="n-tissue"><circle class="y" cx="307" cy="222" r="8"/><text class="f11" x="307" y="221">tissue</text></g>
<g id="n-transcription"><circle class="g" cx="292" cy="363" r="7"/><text class="f11" x="292" y="362">transcription</text></g>
<g id="n-migration"><circle class="b" cx="225" cy="92" r="7"/><text class="f11" x="225" y="92">migration</text></g>
<g id="n-metastasis"><circle class="b" cx="292" cy="47" r="7"/><text class="f11" x="292" y="48">metastasis</text></g>
<g id="n-angiogenesis"><circle class="b" cx="357" cy="146" r="7"/><text class="f11" x="357" y="146">angiogenesis</text></g>
<g id="n-mutation"><circle class="r" cx="518" cy="556" r="7"/><text class="f11" x="518" y="556">mutation</text></g>
<g id="n-cartilage"><circle class="p" cx="440" cy="557" r="7"/><text class="f11" x="442" y="557">cartilage</text></g>
<g id="n-sost"><circle class="r" cx="661" cy="558" r="7"/><text class="f11" x="660" y="558">sost</text></g>
<g id="n-micrornas"><circle class="b" cx="403" cy="21" r="6"/><text class="f10" x="403" y="21">micrornas</text></g>
<g id="n-surface"><circle class="b" cx="512" cy="23" r="6"/><text class="f8" x="538" y="17">surface</text></g>
<g id="n-bone-loss"><circle class="b" cx="728" cy="85" r="6"/><text class="f10" x="729" y="84">bone loss</text></g>
<g id="n-metabolism"><circle class="r" cx="699" cy="206" r="6"/><text class="f10" x="700" y="206">metabolism</text></g>
<g id="n-osteoblastogenesis"><circle class="y" cx="607" cy="57" r="6"/><text class="f10" x="606" y="57">osteoblastogenesis</text></g>
<g id="n-chondrocyte-differentiation"><circle class="p" cx="350" cy="551" r="6"/><text class="f10" x="350" y="550">chondrocyte differentiation</text></g>
<g id="n-family"><circle class="g" cx="358" cy="482" r="6"/><text class="f10" x="358" y="481">family</text></g>
<g id="n-bone-morphogenetic-protein"><circle class="g" cx="249" cy="468" r="6"/><text class="f10" x="251" y="468">bone morphogenetic protein</text></g>
<g id="n-negative-regulator"><circle class="r" cx="468" cy="577" r="6"/><text class="f10" x="466" y="577">negative regulator</text></g>
<g id="n-sost-gene"><circle class="r" cx="743" cy="576" r="6"/><text class="f10" x="743" y="575">sost gene</text></g>
<g id="n-tnf-alpha"><circle class="b" cx="606" cy="147" r="5"/><text class="f11" x="607" y="147">tnf-alpha</text></g>
<g id="n-dkk-1"><circle class="b" cx="648" cy="202" r="5"/><text class="f11" x="648" y="202">dkk-1</text></g>
<g id="n-marrow"><circle class="y" cx="476" cy="35" r="5"/><text class="f10" x="475" y="36">marrow</text></g>
<g id="n-niche"><circle class="g" cx="135" cy="278" r="5"/><text class="f9" x="135" y="278">niche</text></g>
<g id="n-notch"><circle class="g" cx="167" cy="292" r="5"/><text class="f10" x="167" y="290">notch</text></g>
<g id="n-hedgehog"><circle class="g" cx="267" cy="404" r="5"/><text class="f10" x="267" y="404">hedgehog</text></g>
<g id="n-transcription-factor"><circle class="g" cx="285" cy="443" r="5"/><text class="f10" x="285" y="443">transcription factor</text></g>
<g id="n-homeostasis"><circle class="g" cx="380" cy="444" r="5"/><text class="f10" x="381" y="443">homeostasis</text></g>
<g id="n-genes"><circle class="g" cx="328" cy="505" r="5"/><text class="f10" x="328" y="505">genes</text></g>
<g id="n-runx2"><circle class="p" cx="370" cy="363" r="5"/><text class="f11" x="367" y="363">runx2</text></g>
<g id="n-high-bone-mass"><circle class="r" cx="514" cy="627" r="5"/><text class="f10" x="514" y="627">high-bone-mass</text></g>
<g id="n-strength"><circle class="r" cx="788" cy="475" r="5"/><text class="f10" x="788" y="475">strength</text></g>
<g id="n-women"><circle class="r" cx="822" cy="394" r="5"/><text class="f10" x="822" y="394">women</text></g>
<g id="n-fracture"><circle class="r" cx="763" cy="338" r="5"/><text class="f10" x="763" y="337">fracture</text></g>
<g id="n-resorption"><circle class="r" cx="738" cy="263" r="5"/><text class="f10" x="738" y="263">resorption</text></g>
<g id="n-rankl"><circle class="r" cx="728" cy="222" r="5"/><text class="f10" x="730" y="222">rankl</text></g>
<g id="n-pathogenesis"><circle class="b" cx="593" cy="187" r="4"/><text class="f10" x="593" y="187">pathogenesis</text></g>
<g id="n-rheumatoid-arthritis"><circle class="b" cx="756" cy="114" r="4"/><text class="f9" x="758" y="115">rheumatoid arthritis</text></g>
<g id="n-pathways"><circle class="g" cx="403" cy="418" r="4"/><text class="f11" x="403" y="418">pathways</text></g>
<g id="n-fate"><circle class="g" cx="113" cy="370" r="4"/><text class="f9" x="113" y="370">fate</text></g>
<g id="n-xenopus"><circle class="g" cx="60" cy="499" r="4"/><text class="f9" x="59" y="499">xenopus</text></g>
<g id="n-bone-morphogenetic-protein-4"><circle class="g" cx="82" cy="457" r="4"/><text class="f10" x="83" y="456">bone morphogenetic protein-4</text></g>
<g id="n-chondrocytes"><circle class="p" cx="468" cy="536" r="4"/><text class="f10" x="468" y="536">chondrocytes</text></g>
<g id="n-chondrocyte"><circle class="p" cx="383" cy="583" r="4"/><text class="f9" x="383" y="583">chondrocyte</text></g>
<g id="n-regulator"><circle class="r" cx="585" cy="437" r="4"/><text class="f10" x="585" y="437">regulator</text></g>
<g id="n-bone-formation"><circle class="r" cx="627" cy="383" r="4"/><text class="f11" x="627" y="383">bone formation</text></g>
<g id="n-parathyroid-hormone"><circle class="r" cx="672" cy="340" r="4"/><text class="f9" x="672" y="340">parathyroid hormone</text></g>
<g id="n-genetics"><circle class="r" cx="692" cy="460" r="4"/><text class="f9" x="692" y="460">genetics</text></g>
<g id="n-pth"><circle class="r" cx="765" cy="433" r="4"/><text class="f10" x="765" y="433">pth</text></g>
<g id="n-sclerostin-antibody"><circle class="r" cx="793" cy="453" r="4"/><text class="f10" x="793" y="453">sclerostin antibody</text></g>
<g id="n-fractures"><circle class="r" cx="797" cy="354" r="4"/><text class="f10" x="797" y="354">fractures</text></g>
<g id="n-estrogen"><circle class="r" cx="743" cy="289" r="4"/><text class="f10" x="743" y="289">estrogen</text></g>
<g id="n-markers"><circle class="r" cx="776" cy="197" r="4"/><text class="f9" x="776" y="197">markers</text></g>
<g id="n-adipocyte-differentiation"><circle class="y" cx="590" cy="78" r="3"/><text class="f9" x="590" y="78">adipocyte differentiation</text></g>
<g id="n-osteonecrosis"><circle class="y" cx="640" cy="100" r="2"/><text class="f8" x="640" y="100">osteonecrosis</text></g>
<g id="n-adipocyte"><circle class="y" cx="398" cy="126" r="3"/><text class="f9" x="399" y="126">adipocyte</text></g>
<g id="n-osteoblastic-differentiation"><circle class="y" cx="497" cy="158" r="3"/><text class="f10" x="497" y="158">osteoblastic differentiation</text></g>
<g id="n-e-cadherin"><circle class="y" cx="179" cy="127" r="3"/><text class="f9" x="206" y="128">e-cadherin</text></g>
<g id="n-human-bone-marrow"><circle class="y" cx="177" cy="163" r="3"/><text class="f9" x="176" y="163">human bone-marrow</text></g>
<g id="n-collagen"><circle class="y" cx="557" cy="353" r="3"/><text class="f9" x="557" y="353">collagen</text></g>
<g id="n-extracellular-matrix"><circle class="y" cx="273" cy="270" r="3"/><text class="f10" x="273" y="270">extracellular-matrix</text></g>
<g id="n-p53"><circle class="b" cx="310" cy="70" r="3"/><text class="f10" x="308" y="70">p53</text></g>
<g id="n-akt"><circle class="b" cx="293" cy="82" r="2"/><text class="f8" x="293" y="82">akt</text></g>
<g id="n-cancer-cells"><circle class="b" cx="213" cy="71" r="3"/><text class="f9" x="212" y="71">cancer-cells</text></g>
<g id="n-breast-cancer"><circle class="b" cx="368" cy="163" r="3"/><text class="f9" x="368" y="163">breast cancer</text></g>
<g id="n-bone-metastasis"><circle class="b" cx="387" cy="99" r="3"/><text class="f9" x="387" y="99">bone metastasis</text></g>
<g id="n-overexpression"><circle class="b" cx="277" cy="157" r="3"/><text class="f9" x="277" y="156">overexpression</text></g>
<g id="n-kappa-b"><circle class="b" cx="430" cy="212" r="3"/><text class="f9" x="430" y="211">kappa-b</text></g>
<g id="n-mechanism"><circle class="b" cx="486" cy="224" r="3"/><text class="f10" x="486" y="224">mechanism</text></g>
<g id="n-murine-model"><circle class="b" cx="546" cy="271" r="3"/><text class="f8" x="546" y="271">murine model</text></g>
<g id="n-alpha"><circle class="b" cx="611" cy="119" r="3"/><text class="f9" x="611" y="118">alpha</text></g>
<g id="n-tumor-necrosis-factor"><circle class="b" cx="730" cy="135" r="3"/><text class="f9" x="730" y="134">tumor-necrosis-factor</text></g>
<g id="n-wnt5a"><circle class="b" cx="360" cy="227" r="3"/><text class="f10" x="360" y="227">wnt5a</text></g>
<g id="n-gene-family"><circle class="g" cx="67" cy="304" r="3"/><text class="f8" x="66" y="304">gene family</text></g>
<g id="n-hematopoiesis"><circle class="g" cx="128" cy="317" r="3"/><text class="f9" x="128" y="316">hematopoiesis</text></g>
<g id="n-embryonic-stem-cells"><circle class="g" cx="110" cy="348" r="3"/><text class="f9" x="110" y="348">embryonic stem-cells</text></g>
<g id="n-complex"><circle class="g" cx="205" cy="348" r="3"/><text class="f9" x="205" y="348">complex</text></g>
<g id="n-transcriptional-regulation"><circle class="g" cx="168" cy="387" r="3"/><text class="f8" x="168" y="387">transcriptional regulation</text></g>
<g id="n-bmp-signaling"><circle class="g" cx="217" cy="425" r="3"/><text class="f9" x="217" y="425">bmp signaling</text></g>
<g id="n-homeobox-gene"><circle class="g" cx="60" cy="477" r="3"/><text class="f9" x="60" y="477">homeobox gene</text></g>
<g id="n-fgf"><circle class="g" cx="135" cy="499" r="3"/><text class="f10" x="135" y="499">fgf</text></g>
<g id="n-leukemia"><circle class="g" cx="163" cy="187" r="3"/><text class="f9" x="163" y="187">leukemia</text></g>
<g id="n-matrix"><circle class="g" cx="410" cy="367" r="3"/><text class="f9" x="410" y="367">matrix</text></g>
<g id="n-muscle"><circle class="g" cx="437" cy="503" r="3"/><text class="f9" x="437" y="503">muscle</text></g>
<g id="n-rna-seq"><circle class="g" cx="402" cy="496" r="3"/><text class="f9" x="402" y="496">rna-seq</text></g>
<g id="n-bone-development"><circle class="p" cx="357" cy="523" r="3"/><text class="f9" x="357" y="523">bone-development</text></g>
<g id="n-alkaline-phosphatase"><circle class="p" cx="478" cy="348" r="3"/><text class="f10" x="478" y="348">alkaline-phosphatase</text></g>
<g id="n-differentiated-osteoblasts"><circle class="p" cx="613" cy="510" r="3"/><text class="f9" x="613" y="510">differentiated osteoblasts</text></g>
<g id="n-hip-osteoarthritis"><circle class="p" cx="604" cy="532" r="3"/><text class="f9" x="604" y="532">hip osteoarthritis</text></g>
<g id="n-dkk1"><circle class="r" cx="595" cy="337" r="6"/><text class="f12" x="595" y="335">dkk1</text></g>
<g id="n-age"><circle class="r" cx="612" cy="360" r="3"/><text class="f9" x="612" y="360">age</text></g>
<g id="n-association"><circle class="r" cx="705" cy="362" r="3"/><text class="f11" x="705" y="362">association</text></g>
<g id="n-deficiency"><circle class="r" cx="568" cy="407" r="3"/><text class="f9" x="568" y="407">deficiency</text></g>
<g id="n-polymorphisms"><circle class="r" cx="747" cy="518" r="3"/><text class="f9" x="746" y="518">polymorphisms</text></g>
<g id="n-variants"><circle class="r" cx="722" cy="493" r="3"/><text class="f9" x="722" y="493">variants</text></g>
<g id="n-strain"><circle class="r" cx="651" cy="468" r="3"/><text class="f9" x="651" y="468">strain</text></g>
<g id="n-osteocyte"><circle class="r" cx="656" cy="443" r="3"/><text class="f10" x="656" y="443">osteocyte</text></g>
<g id="n-metaanalysis"><circle class="r" cx="805" cy="427" r="3"/><text class="f9" x="805" y="427">metaanalysis</text></g>
<g id="n-bmd"><circle class="r" cx="825" cy="473" r="3"/><text class="f10" x="825" y="473">bmd</text></g>
<g id="n-teriparatide"><circle class="r" cx="840" cy="377" r="3"/><text class="f9" x="840" y="377">teriparatide</text></g>
<g id="n-serum-sclerostin"><circle class="r" cx="840" cy="282" r="3"/><text class="f10" x="840" y="282">serum sclerostin</text></g>
<g id="n-opg"><circle class="r" cx="765" cy="243" r="3"/><text class="f9" x="765" y="243">opg</text></g>
<g id="n-osteoclasts"><circle class="r" cx="697" cy="243" r="3"/><text class="f10" x="697" y="243">osteoclasts</text></g>
<g id="n-atherosclerosis"><circle class="r" cx="680" cy="223" r="3"/><text class="f9" x="680" y="223">atherosclerosis</text></g>
<g id="n-vitamin-d"><circle class="r" cx="770" cy="221" r="3"/><text class="f9" x="770" y="221">vitamin-d</text></g>
<g id="n-phosphate"><circle class="r" cx="666" cy="186" r="3"/><text class="f9" x="666" y="186">phosphate</text></g>
<g id="n-chronic-kidney-disease"><circle class="r" cx="767" cy="158" r="3"/><text class="f9" x="767" y="158">chronic kidney-disease</text></g>
</g>
</svg>
